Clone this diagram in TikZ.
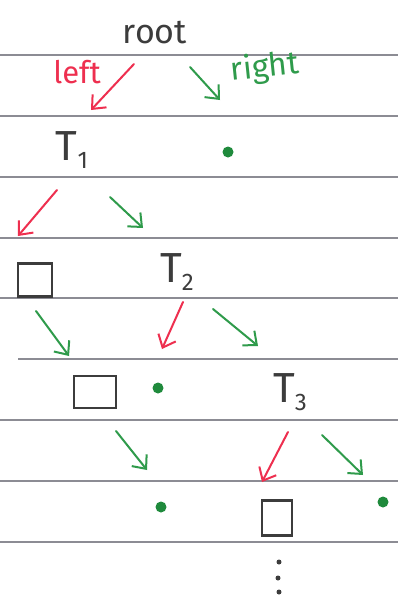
\documentclass[tikz,border=0pt]{standalone}
\usepackage{fontspec}
\setmainfont{Fira Sans}
\usetikzlibrary{arrows.meta}
\definecolor{inkred}{HTML}{EE2F4F}
\definecolor{inkgreen}{HTML}{2F9B4B}
\definecolor{dotgreen}{HTML}{1F8A3C}
\definecolor{pencil}{HTML}{3C3C3C}
\definecolor{rule}{HTML}{8C8C94}
\tikzset{
  ruleline/.style={draw=rule, line width=1.1pt},
  lbl/.style={text=pencil, inner sep=0pt, font=\fontsize{34}{36}\selectfont},
  tname/.style={text=pencil, inner sep=0pt, font=\fontsize{42}{44}\selectfont},
  redlbl/.style={text=inkred, inner sep=0pt, font=\fontsize{31}{33}\selectfont},
  greenlbl/.style={text=inkgreen, inner sep=0pt, font=\fontsize{32}{34}\selectfont},
  leafdot/.style={circle, fill=dotgreen, inner sep=0pt, minimum size=11pt},
  inkdot/.style={circle, fill=pencil, inner sep=0pt, minimum size=5pt},
  leafbox/.style={draw=pencil, line width=2.4pt, inner sep=0pt},
  redarr/.style={draw=inkred, line width=2pt, line cap=round, -{Straight Barb[length=11pt,width=19pt,line width=2pt]}},
  greenarr/.style={draw=inkgreen, line width=2pt, line cap=round, -{Straight Barb[length=11pt,width=19pt,line width=2pt]}}
}
\newcommand{\Tsub}[1]{T\kern0pt\raisebox{-8pt}{\fontsize{24}{26}\selectfont #1}}
\begin{document}
\begin{tikzpicture}[x=1pt,y=-1pt]
\useasboundingbox[fill=white] (0,0) rectangle (398,595);
% ruled paper
\foreach \yy in {55,116,177,238,298,420,481,542}
  \draw[ruleline] (0,\yy) -- (398,\yy);
\draw[ruleline] (18,359) -- (398,359);

% nodes
\node[lbl] (root) at (155,33) {root};
\node[redlbl] (leftlbl) at (77,72) {left};
\node[greenlbl, rotate=6] (rightlbl) at (265,68) {right};
\node[tname] (T1) at (72,150) {\Tsub{1}};
\node[leafdot] (dot1) at (228,152) {};
\node[leafbox, minimum width=34pt, minimum height=33pt] (sq1) at (35,280) {};
\node[tname] (T2) at (177,272) {\Tsub{2}};
\node[leafbox, minimum width=42pt, minimum height=32pt] (sq2) at (95,392) {};
\node[leafdot] (dot2) at (158,388) {};
\node[tname] (T3) at (290,392) {\Tsub{3}};
\node[leafdot] (dot3) at (161,507) {};
\node[leafbox, minimum width=30pt, minimum height=35pt] (sq3) at (277,518) {};
\node[leafdot] (dot4) at (383,502) {};
\node[inkdot] (vd1) at (279,562) {};
\node[inkdot] (vd2) at (278,578) {};
\node[inkdot] (vd3) at (279,592) {};

% connectors
\draw[redarr]   ([shift={(-21,31)}]root.center) -- ([shift={(19,-40)}]T1.center);
\draw[greenarr] ([shift={(35,34)}]root.center)  -- ([shift={(-8,-52)}]dot1.center);
\draw[redarr]   ([shift={(-15,40)}]T1.center)   -- ([shift={(-17,-44)}]sq1.center);
\draw[greenarr] ([shift={(38,47)}]T1.center)    -- ([shift={(-34,-44)}]T2.center);
\draw[greenarr] ([shift={(1,31)}]sq1.center)    -- ([shift={(-26,-36)}]sq2.center);
\draw[redarr]   ([shift={(6,30)}]T2.center)     -- ([shift={(4,-39)}]dot2.center);
\draw[greenarr] ([shift={(36,37)}]T2.center)    -- ([shift={(-32,-46)}]T3.center);
\draw[greenarr] ([shift={(21,39)}]sq2.center)   -- ([shift={(-14,-37)}]dot3.center);
\draw[redarr]   ([shift={(-2,40)}]T3.center)    -- ([shift={(-15,-36)}]sq3.center);
\draw[greenarr] ([shift={(32,43)}]T3.center)    -- ([shift={(-20,-27)}]dot4.center);
\end{tikzpicture}
\end{document}
